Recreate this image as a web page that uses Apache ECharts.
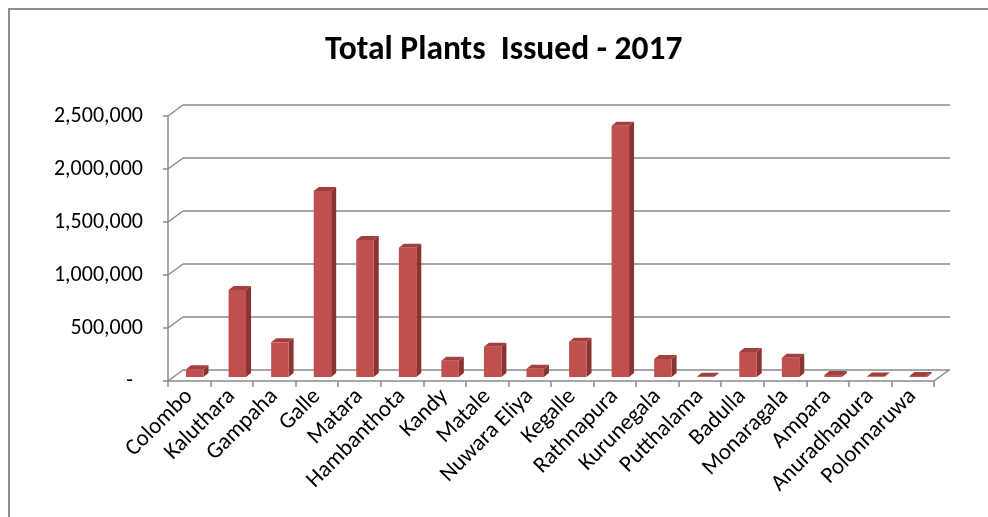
<!DOCTYPE html>
<html><head><meta charset="utf-8">
<script src="https://cdn.jsdelivr.net/npm/echarts@6/dist/echarts.min.js"></script>
<style>html,body{margin:0;padding:0;background:#fff}#c{width:988px;height:517px}</style>
</head><body><div id="c"></div>
<script>
const categories = ['Colombo','Kaluthara','Gampaha','Galle','Matara','Hambanthota','Kandy','Matale','Nuwara Eliya','Kegalle','Rathnapura','Kurunegala','Putthalama','Badulla','Monaragala','Ampara','Anuradhapura','Polonnaruwa'];
const plantsIssued = [73000,820000,327000,1755000,1292000,1220000,154000,286000,78000,333000,2370000,170000,2000,236000,182000,20000,5000,10000];
const yTicks = [0,500000,1000000,1500000,2000000,2500000];

const FONT = 'Carlito, Lato, sans-serif';
const chart = echarts.init(document.getElementById('c'), null, {renderer:'canvas'});
const WALL_DX = 15, WALL_DY = -11;
const BAR_OX = 5.5, BAR_OY = -4, BAR_DX = 5, BAR_DY = -4;
const gridColor = '#8a8a8a';
const YLBL = 22, XLBL = 23;

chart.setOption({
  animation:false,
  backgroundColor:'#fff',
  title:{text:'Total Plants  Issued - 2017', left:320, top:29,
    textStyle:{fontFamily:FONT, fontSize:33.5, fontWeight:'bold', color:'#000'}},
  graphic:[{type:'rect', shape:{x:9,y:9,width:1200,height:900}, style:{fill:'none', stroke:'#8e8e8e', lineWidth:2}, silent:true}],
  grid:[
    {left:183, right:38, top:105, bottom:147},
    {left:168, right:54, top:116, bottom:136}
  ],
  xAxis:[
    {gridIndex:0, type:'category', data:categories, show:false},
    {gridIndex:1, type:'category', data:categories,
      axisLine:{show:true, lineStyle:{color:gridColor, width:1.5}},
      axisTick:{show:true, length:6, lineStyle:{color:gridColor, width:1.5}},
      axisLabel:{rotate:45, interval:0, margin:12, fontFamily:FONT, fontSize:XLBL, color:'#000'}}
  ],
  yAxis:[
    {gridIndex:0, type:'value', min:0, max:2500000, interval:500000,
      axisLine:{show:false}, axisTick:{show:false}, axisLabel:{show:false},
      splitLine:{show:true, lineStyle:{color:gridColor, width:1.5}}},
    {gridIndex:1, type:'value', min:0, max:2500000, interval:500000,
      axisLine:{show:true, lineStyle:{color:gridColor, width:1.5}},
      axisTick:{show:true, length:5, lineStyle:{color:gridColor, width:1.5}},
      splitLine:{show:false},
      axisLabel:{margin:25, fontFamily:FONT, fontSize:YLBL, color:'#000',
        formatter:function(v){ return v===0 ? '{d|-}' : echarts.format.addCommas(v); },
        rich:{d:{fontFamily:FONT, fontSize:YLBL, color:'#000', padding:[0,10,0,0]}}}}
  ],
  series:[
    {type:'custom', xAxisIndex:1, yAxisIndex:1, z:1, silent:true,
      data: yTicks.map(v=>[0,v]),
      renderItem:function(params, api){
        const cs = params.coordSys;
        const y = api.coord([0, api.value(1)])[1];
        const children = [{type:'line', shape:{x1:cs.x, y1:y, x2:cs.x+WALL_DX, y2:y+WALL_DY}, style:{stroke:gridColor, lineWidth:1.5}}];
        if (api.value(1) === 0) {
          children.push({type:'line', shape:{x1:cs.x+cs.width, y1:y, x2:cs.x+cs.width+WALL_DX, y2:y+WALL_DY}, style:{stroke:gridColor, lineWidth:1.5}});
        }
        return {type:'group', children:children};
      }},
    {type:'custom', xAxisIndex:1, yAxisIndex:1, z:5, silent:true,
      data: plantsIssued.map((v,i)=>[i,v]),
      renderItem:function(params, api){
        const base = api.coord([api.value(0), 0]);
        const top = api.coord([api.value(0), api.value(1)]);
        const bw = api.size([1,0])[0]*0.41;
        const l = base[0]-bw/2+BAR_OX, r = l+bw;
        const b = base[1]+BAR_OY, t = top[1]+BAR_OY;
        return {type:'group', children:[
          {type:'polygon', shape:{points:[[r,b],[r+BAR_DX,b+BAR_DY],[r+BAR_DX,t+BAR_DY],[r,t]]}, style:{fill:'#8a3331'}},
          {type:'polygon', shape:{points:[[l,t],[l+BAR_DX,t+BAR_DY],[r+BAR_DX,t+BAR_DY],[r,t]]}, style:{fill:'#a33f3c'}},
          {type:'rect', shape:{x:l, y:t, width:bw, height:Math.max(b-t,0)}, style:{fill:'#c0504d'}}
        ]};
      }}
  ]
});
</script></body></html>
